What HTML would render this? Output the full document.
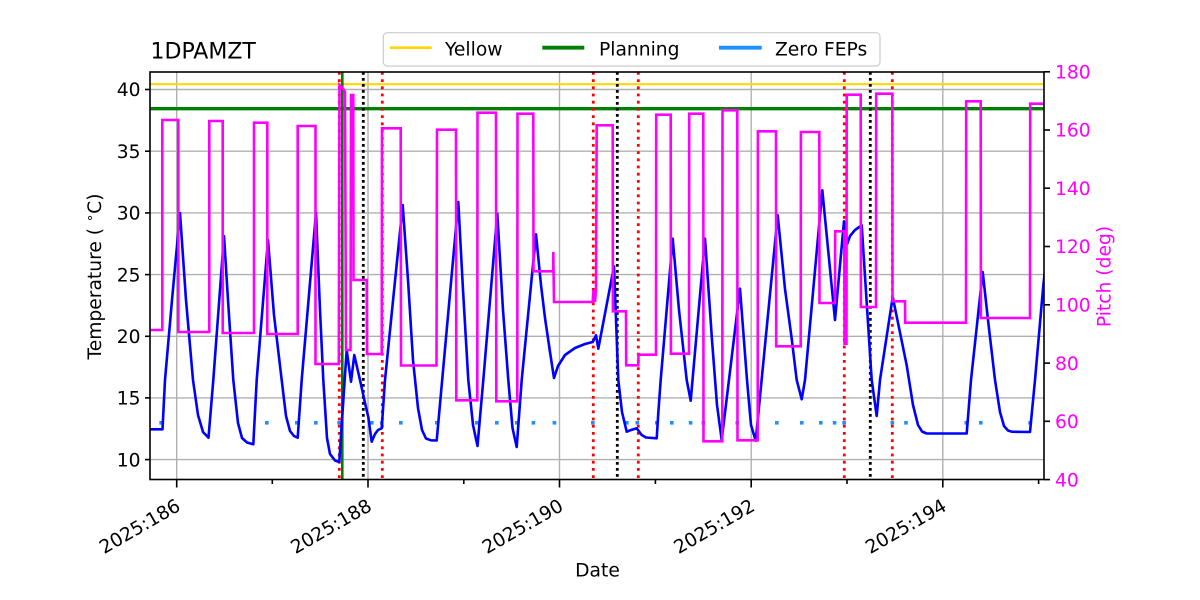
<!DOCTYPE html>
<html>
<head>
<meta charset="utf-8">
<style>
  html,body{margin:0;padding:0;background:#fff;}
  svg{display:block;}
  text{font-family:"DejaVu Sans","Liberation Sans",sans-serif;}
</style>
</head>
<body>
<svg width="1200" height="600" viewBox="0 0 1200 600" xmlns="http://www.w3.org/2000/svg">
  <defs>
    <clipPath id="ax">
      <rect x="150" y="72" width="894" height="407.5"/>
    </clipPath>
  </defs>
  <rect x="0" y="0" width="1200" height="600" fill="#fff"/>

  <!-- grid -->
  <g stroke="#b0b0b0" stroke-width="1.4" fill="none">
    <line x1="150" x2="1044" y1="459.6" y2="459.6"/>
    <line x1="150" x2="1044" y1="397.9" y2="397.9"/>
    <line x1="150" x2="1044" y1="336.3" y2="336.3"/>
    <line x1="150" x2="1044" y1="274.6" y2="274.6"/>
    <line x1="150" x2="1044" y1="212.9" y2="212.9"/>
    <line x1="150" x2="1044" y1="151.2" y2="151.2"/>
    <line x1="150" x2="1044" y1="89.5" y2="89.5"/>
    <line x1="176.7" x2="176.7" y1="72" y2="479.5"/>
    <line x1="368" x2="368" y1="72" y2="479.5"/>
    <line x1="559.5" x2="559.5" y1="72" y2="479.5"/>
    <line x1="751.2" x2="751.2" y1="72" y2="479.5"/>
    <line x1="942.8" x2="942.8" y1="72" y2="479.5"/>
  </g>

  <g clip-path="url(#ax)">
    <!-- limit lines -->
    <line x1="150" x2="1044" y1="84.2" y2="84.2" stroke="#FFD700" stroke-width="2.2"/>
    <line x1="150" x2="1044" y1="108.7" y2="108.7" stroke="#008000" stroke-width="3.4"/>

    <!-- Zero FEPs dots -->
    <g fill="#1E90FF">
      <rect x="159.3" y="421" width="3.6" height="3.6"/>
      <rect x="265" y="421" width="3.6" height="3.6"/>
      <rect x="295" y="421" width="3.6" height="3.6"/>
      <rect x="314" y="421" width="3.6" height="3.6"/>
      <rect x="337.3" y="421" width="3.6" height="3.6"/>
      <rect x="370" y="421" width="3.6" height="3.6"/>
      <rect x="380" y="421" width="3.6" height="3.6"/>
      <rect x="399" y="421" width="3.6" height="3.6"/>
      <rect x="435" y="421" width="3.6" height="3.6"/>
      <rect x="475" y="421" width="3.6" height="3.6"/>
      <rect x="495" y="421" width="3.6" height="3.6"/>
      <rect x="515" y="421" width="3.6" height="3.6"/>
      <rect x="531.6" y="421" width="3.6" height="3.6"/>
      <rect x="552.6" y="421" width="3.6" height="3.6"/>
      <rect x="591" y="421" width="3.6" height="3.6"/>
      <rect x="625" y="421" width="3.6" height="3.6"/>
      <rect x="635.5" y="421" width="3.6" height="3.6"/>
      <rect x="655" y="421" width="3.6" height="3.6"/>
      <rect x="670" y="421" width="3.6" height="3.6"/>
      <rect x="688.8" y="421" width="3.6" height="3.6"/>
      <rect x="701.6" y="421" width="3.6" height="3.6"/>
      <rect x="735.5" y="421" width="3.6" height="3.6"/>
      <rect x="775" y="421" width="3.6" height="3.6"/>
      <rect x="800" y="421" width="3.6" height="3.6"/>
      <rect x="819" y="421" width="3.6" height="3.6"/>
      <rect x="832.8" y="421" width="3.6" height="3.6"/>
      <rect x="842.3" y="421" width="3.6" height="3.6"/>
      <rect x="890.5" y="421" width="3.6" height="3.6"/>
      <rect x="904.2" y="421" width="3.6" height="3.6"/>
      <rect x="964.5" y="421" width="3.6" height="3.6"/>
      <rect x="979" y="421" width="3.6" height="3.6"/>
      <rect x="1028.3" y="421" width="3.6" height="3.6"/>
    </g>

    <!-- vertical event lines -->
    <g stroke="#ff0000" stroke-width="2.8" stroke-dasharray="2.8 4.4">
      <line x1="339.3" x2="339.3" y1="72" y2="480"/>
      <line x1="382.3" x2="382.3" y1="72" y2="480"/>
      <line x1="593.3" x2="593.3" y1="72" y2="480"/>
      <line x1="638.3" x2="638.3" y1="72" y2="480"/>
      <line x1="844.3" x2="844.3" y1="72" y2="480"/>
      <line x1="892.3" x2="892.3" y1="72" y2="480"/>
    </g>
    <g stroke="#000000" stroke-width="2.8" stroke-dasharray="2.8 3.2">
      <line x1="363.3" x2="363.3" y1="72" y2="480"/>
      <line x1="617.3" x2="617.3" y1="72" y2="480"/>
      <line x1="870.3" x2="870.3" y1="72" y2="480"/>
    </g>
    <line x1="342.3" x2="342.3" y1="72" y2="480" stroke="#008000" stroke-width="2.6"/>

    <!-- temperature -->
    <path fill="none" stroke="#0000ff" stroke-width="2.6" stroke-linejoin="round" d="
      M150,429.3 L162.5,429.3 L165,380 L172,300 L180,213 L186,300 L193,380 L198,415 L203,432 L208.5,437.7
      L213.3,380 L224,236 L228,300 L233.3,380 L238,423 L242,438 L247,442.5 L253.3,444.3
      L256.7,380 L268,240 L274,315 L281.7,380 L286,416 L290,431 L294,436 L297.7,437.7
      L301.7,380 L316,212.7 L320,310 L323.3,380 L327,438 L330,454 L335,460.5 L339.3,462
      L342,420 L346.7,350 L351,381.7 L354.3,355 L360,380 L365,403 L368.3,417 L371.7,441.7
      L375,434 L378,430 L381.7,428.3 L385,380 L402.7,205 L408,280 L413,360 L418,408 L422,430 L426,438.5 L431,440.3 L436.7,440.5
      L458.3,202 L463,290 L468.3,380 L473,425 L477.5,446 L483.3,380 L497.3,213.7 L503,310 L508.3,380 L512.5,428 L516.7,447
      L521.7,380 L536,234.3 L541,285 L545,318 L550,352 L554,378 L558,366 L565,355 L575,348 L585,344 L592.7,342
      L596,335.3 L598.3,348.7 L614,266.3 L618.3,380 L622,412 L626.7,431.7 L631,430 L636.7,428.3 L641.7,435 L646,437.5 L656.7,438.3
      L658.3,413 L660.7,380 L672.7,238.7 L679,310 L686.7,380 L690.7,400.7 L705,238.7 L712,340 L717,405 L721.7,440 L740,288.7 L747,380 L751,425 L755.7,440.7
      L777.7,215.3 L785,289 L791.7,338.7 L796.7,380 L801.7,399.3 L805,380 L822.3,190.3 L835,320 L844,221.3 L847.3,243.7
      L850,236 L855,230 L861.7,225.3 L871.7,380 L876.7,416 L880,380 L892.7,297 L906.7,365.3 L913,405 L918,425 L922,431.5 L926.7,433.5 L966.7,433.5
      L971,380 L982.7,272 L988,320 L995,380 L1000,412 L1004,426 L1008,430.5 L1011.7,431.7 L1030,432 L1035,380 L1043,288.7 L1046,260"/>

    <!-- pitch -->
    <path fill="none" stroke="#ff00ff" stroke-width="2.6" stroke-linejoin="miter" d="
      M150,330 L162.3,330 L162.3,120 L178.3,120 L178.3,332 L209.3,332 L209.3,121 L222.7,121 L222.7,333
      L254,333 L254,122.7 L267.3,122.7 L267.3,334 L297.7,334 L297.7,126 L315.5,126 L315.5,364 L338.8,364
      L339.5,85 L342.5,88 L345,91.7 L346,350 L350.5,350 L351,95 L353.3,95 L353.5,280 L366.7,280 L367,354
      L381.7,354 L382,128.3 L400.7,128.3 L401,365.5 L436.5,365.5 L437,129.7 L456,129.7 L456.3,400.3 L477.3,400.3
      L477.5,112.7 L496,112.7 L496.3,401.3 L517.3,401.3 L517.5,113.7 L533.3,113.7 L533.5,271.3 L553.3,271.3
      L553.3,252 L554,302 L592.7,302 L593.5,290 L595,302 L596,290 L596.7,125.3 L612.7,125.3 L612.9,311.3 L626,311.3
      L626.2,365.3 L638.3,365.3 L638.5,354.7 L656,354.7 L656.2,114.7 L670.7,114.7 L670.9,353.7 L689,353.7
      L689.2,113.7 L703.3,113.7 L703.5,441.3 L722.3,441.3 L722.5,110.3 L737.3,110.3 L737.5,440.3 L757.7,440.3
      L757.9,131.3 L776,131.3 L776.2,346.3 L800.7,346.3 L800.9,132 L819.3,132 L819.5,303 L835,303 L835.2,231.3
      L844.3,231.3 L844.5,343.7 L846.5,343.7 L846.7,94.7 L860.7,94.7 L860.9,307 L876,307 L876.2,93.7 L892.3,93.7
      L892.5,301.3 L905,301.3 L905.2,322.7 L966,322.7 L966.2,101.3 L980.7,101.3 L980.9,318 L1030,318 L1030.2,103.7 L1046,103.7"/>
  </g>

  <!-- spines -->
  <rect x="150" y="72" width="894" height="407.5" fill="none" stroke="#000" stroke-width="1.6"/>

  <!-- ticks -->
  <g stroke="#000" stroke-width="1.6">
    <line x1="145" x2="150" y1="459.6" y2="459.6"/>
    <line x1="145" x2="150" y1="397.9" y2="397.9"/>
    <line x1="145" x2="150" y1="336.3" y2="336.3"/>
    <line x1="145" x2="150" y1="274.6" y2="274.6"/>
    <line x1="145" x2="150" y1="212.9" y2="212.9"/>
    <line x1="145" x2="150" y1="151.2" y2="151.2"/>
    <line x1="145" x2="150" y1="89.5" y2="89.5"/>
    <line x1="1044" x2="1050" y1="479.6" y2="479.6"/>
    <line x1="1044" x2="1050" y1="421.3" y2="421.3"/>
    <line x1="1044" x2="1050" y1="363.1" y2="363.1"/>
    <line x1="1044" x2="1050" y1="304.8" y2="304.8"/>
    <line x1="1044" x2="1050" y1="246.5" y2="246.5"/>
    <line x1="1044" x2="1050" y1="188.2" y2="188.2"/>
    <line x1="1044" x2="1050" y1="130" y2="130"/>
    <line x1="1044" x2="1050" y1="71.8" y2="71.8"/>
    <line x1="176.7" x2="176.7" y1="479.5" y2="487.5"/>
    <line x1="368" x2="368" y1="479.5" y2="487.5"/>
    <line x1="559.5" x2="559.5" y1="479.5" y2="487.5"/>
    <line x1="751.2" x2="751.2" y1="479.5" y2="487.5"/>
    <line x1="942.8" x2="942.8" y1="479.5" y2="487.5"/>
    <line x1="272.3" x2="272.3" y1="479.5" y2="484"/>
    <line x1="463.8" x2="463.8" y1="479.5" y2="484"/>
    <line x1="655.4" x2="655.4" y1="479.5" y2="484"/>
    <line x1="847" x2="847" y1="479.5" y2="484"/>
    <line x1="1038.6" x2="1038.6" y1="479.5" y2="484"/>
  </g>

  <!-- left tick labels -->
  <g font-size="18.7" fill="#000" text-anchor="end">
    <text x="140.5" y="466.3">10</text>
    <text x="140.5" y="404.6">15</text>
    <text x="140.5" y="343">20</text>
    <text x="140.5" y="281.3">25</text>
    <text x="140.5" y="219.6">30</text>
    <text x="140.5" y="157.9">35</text>
    <text x="140.5" y="96.2">40</text>
  </g>

  <!-- right tick labels -->
  <g font-size="18.7" fill="#ff00ff" text-anchor="start">
    <text x="1055" y="486.3">40</text>
    <text x="1055" y="428">60</text>
    <text x="1055" y="369.8">80</text>
    <text x="1055" y="311.5">100</text>
    <text x="1055" y="253.2">120</text>
    <text x="1055" y="194.9">140</text>
    <text x="1055" y="136.7">160</text>
    <text x="1055" y="78.5">180</text>
  </g>

  <!-- x tick labels -->
  <g font-size="18.7" fill="#000" text-anchor="end">
    <text x="181.7" y="509.5" transform="rotate(-30 181.7 509.5)">2025:186</text>
    <text x="373" y="509.5" transform="rotate(-30 373 509.5)">2025:188</text>
    <text x="564.5" y="509.5" transform="rotate(-30 564.5 509.5)">2025:190</text>
    <text x="756.2" y="509.5" transform="rotate(-30 756.2 509.5)">2025:192</text>
    <text x="947.8" y="509.5" transform="rotate(-30 947.8 509.5)">2025:194</text>
  </g>

  <!-- axis labels -->
  <text x="597.5" y="576.7" font-size="18.7" text-anchor="middle" fill="#000">Date</text>
  <text x="101" y="276.5" font-size="18.7" text-anchor="middle" fill="#000" transform="rotate(-90 101 276.5)">Temperature ( <tspan font-size="13" dy="-7">∘</tspan><tspan dy="7">C)</tspan></text>
  <text x="1110.5" y="276.5" font-size="18.7" text-anchor="middle" fill="#ff00ff" transform="rotate(-90 1110.5 276.5)">Pitch (deg)</text>

  <!-- title -->
  <text x="150.5" y="58.3" font-size="22" fill="#000">1DPAMZT</text>

  <!-- legend -->
  <rect x="383.3" y="32.7" width="496.7" height="33.3" rx="4" ry="4" fill="#fff" fill-opacity="0.8" stroke="#cccccc" stroke-width="1.2"/>
  <line x1="390" x2="431.7" y1="47.7" y2="47.7" stroke="#FFD700" stroke-width="2.7"/>
  <line x1="542.3" x2="584.3" y1="47.7" y2="47.7" stroke="#008000" stroke-width="3.8"/>
  <line x1="719" x2="761.7" y1="47.7" y2="47.7" stroke="#1E90FF" stroke-width="3.8"/>
  <g font-size="18.7" fill="#000">
    <text x="445" y="55.6">Yellow</text>
    <text x="599" y="55.6">Planning</text>
    <text x="775" y="55.6">Zero FEPs</text>
  </g>
</svg>
</body>
</html>
